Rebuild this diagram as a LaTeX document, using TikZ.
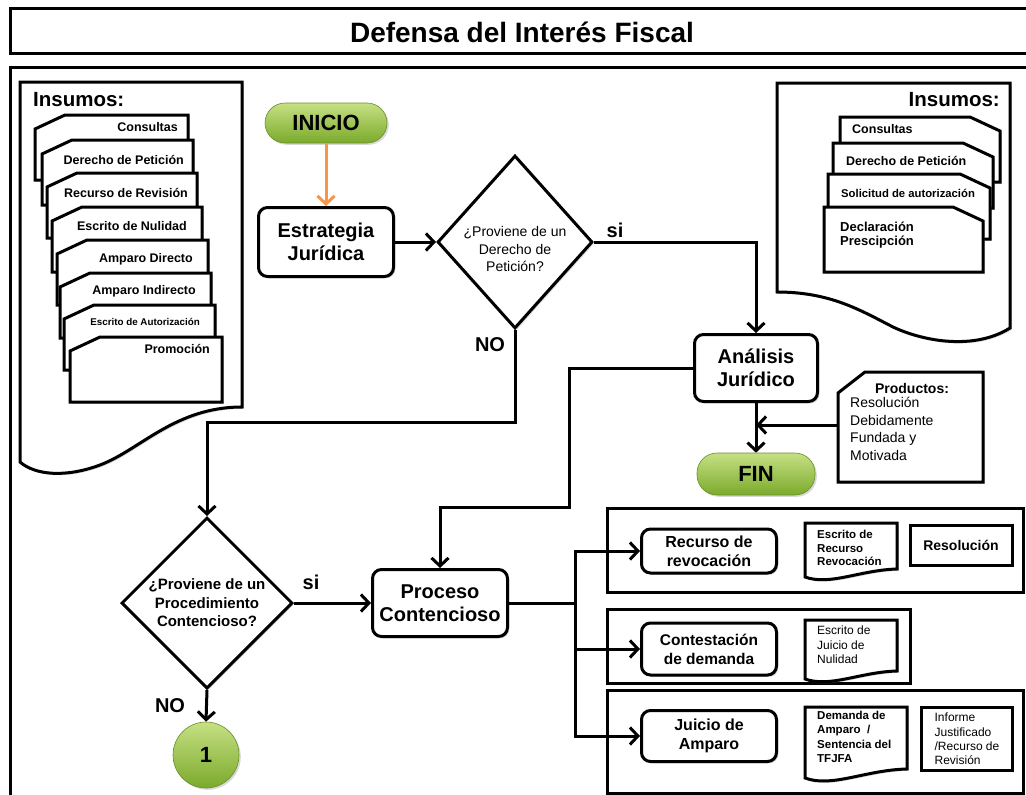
\documentclass[tikz,border=0pt]{standalone}
\usepackage{fontspec}
\setmainfont{Liberation Sans}
\usetikzlibrary{arrows.meta,shapes.geometric,shadows}

\definecolor{termtop}{HTML}{C6E084}
\definecolor{termbot}{HTML}{7BAA2C}
\definecolor{startarrow}{HTML}{F79646}

\newcommand{\fsz}[2]{\fontsize{#1pt}{#2pt}\selectfont}

\tikzset{
  soft shadow/.style={drop shadow={shadow xshift=1.8pt,shadow yshift=-1.8pt,opacity=0.3}},
  framebox/.style={draw, line width=3pt, fill=white, align=center, inner sep=0pt, soft shadow},
  procbox/.style={framebox, rounded corners=9pt, font=\bfseries\fsz{20}{23}},
  terminal/.style={rounded corners=20pt, top color=termtop, bottom color=termbot,
    draw=termbot!85!black, line width=0.6pt, font=\bfseries\fsz{22}{24}, soft shadow},
  decision/.style={diamond, aspect=1, draw, line width=3pt, fill=white, inner sep=0pt,
    align=center, soft shadow},
  flow/.style={line width=3pt, -{Straight Barb[length=8pt,width=17pt]}},
  link/.style={line width=3pt},
  card/.style={draw, line width=3pt, fill=white, line join=miter, soft shadow},
  answer/.style={font=\bfseries\fsz{20}{22}, inner sep=0pt},
  groupframe/.style={draw, line width=3pt},
}

% document card with its top-left corner cut off, label set to the right
\newcommand{\insumoL}[8]{%
  \draw[card] (#2,#3+14) -- (#2+30,#3) -- (#4,#3) -- (#4,#3+65) -- (#2,#3+65) -- cycle;
  \node[anchor=east, inner sep=0pt, font=#7] (#1) at (#5,#6) {#8};}
% document card with its top-right corner cut off, label set to the left
\newcommand{\insumoR}[8]{%
  \draw[card] (#2,#3) -- (#4-30,#3) -- (#4,#3+14) -- (#4,#3+65) -- (#2,#3+65) -- cycle;
  \node[anchor=west, inner sep=0pt, font=#7, align=left] (#1) at (#5,#6) {#8};}

\begin{document}
\begin{tikzpicture}[x=1pt,y=-1pt]
\useasboundingbox (0,0) rectangle (1026,795);
\fill[white] (0,0) rectangle (1026,795);
\clip (0,0) rectangle (1026,795);

% title bar and outer frame
\draw[line width=3pt] (10,8) rectangle (1060,53);
\node[font=\bfseries\fsz{28}{30}] (title) at (522,32) {Defensa del Interés Fiscal};
\draw[line width=3pt] (10,67) rectangle (1060,840);

% left input document
\draw[card] (20,82) -- (242,82) -- (242,407)
  .. controls (175,407) and (140,450) .. (100,465)
  .. controls (65,478) and (35,475) .. (20,462) -- cycle;
\node[font=\bfseries\fsz{20.5}{22}, anchor=west, inner sep=0pt] (insL) at (33,100) {Insumos:};
\insumoL{inLa}{35}{115}{188}{178}{127}{\bfseries\fsz{12.5}{15}}{Consultas}
\insumoL{inLb}{42}{140}{193}{184}{160}{\bfseries\fsz{12.5}{15}}{Derecho de Petición}
\insumoL{inLc}{47}{173}{197}{188}{193}{\bfseries\fsz{12.5}{15}}{Recurso de Revisión}
\insumoL{inLd}{52}{207}{202}{187}{226}{\bfseries\fsz{12.5}{15}}{Escrito de Nulidad}
\insumoL{inLe}{57}{240}{208}{193}{259}{\bfseries\fsz{12.5}{15}}{Amparo Directo}
\insumoL{inLf}{60}{273}{211}{196}{291}{\bfseries\fsz{12.5}{15}}{Amparo Indirecto}
\insumoL{inLg}{64}{305}{215}{200}{322}{\bfseries\fsz{9.8}{12}}{Escrito de Autorización}
\insumoL{inLh}{70}{337}{222}{210}{349}{\bfseries\fsz{12.5}{15}}{Promoción}

% right input document
\draw[card] (777,83) -- (1010,83) -- (1010,328)
  .. controls (975,350) and (925,342) .. (893,327)
  .. controls (860,310) and (830,292) .. (777,292) -- cycle;
\node[font=\bfseries\fsz{20.5}{22}, anchor=east, inner sep=0pt] (insR) at (1000,100) {Insumos:};
\insumoR{inRa}{840}{117}{1000}{852}{129}{\bfseries\fsz{12.5}{15}}{Consultas}
\insumoR{inRb}{833}{143}{993}{846}{161}{\bfseries\fsz{12.5}{15}}{Derecho de Petición}
\insumoR{inRc}{828}{174}{990}{841}{193}{\bfseries\fsz{11.3}{14}}{Solicitud de autorización}
\insumoR{inRd}{824}{207}{983}{840}{235}{\bfseries\fsz{13}{14.5}}{Declaración\\Prescipción}

% main flow
\node[terminal, minimum width=122pt, minimum height=40pt] (inicio) at (326,123) {INICIO};
\node[procbox, minimum width=135pt, minimum height=69pt] (estrategia) at (326,242) {Estrategia\\Jurídica};
\node[decision, minimum width=155pt, minimum height=173pt] (d1) at (515,242) {};
\node[font=\fsz{14}{17.5}, align=center, inner sep=0pt] (d1text) at (515,249) {¿Proviene de un\\Derecho de\\Petición?};
\node[procbox, minimum width=123pt, minimum height=67pt] (analisis) at (756,368) {Análisis\\Jurídico};
\node[terminal, minimum width=118pt, minimum height=42pt] (fin) at (756,474) {FIN};

% products note
\draw[card] (838,393) -- (865,372) -- (983,372) -- (983,482) -- (838,482) -- cycle;
\node[font=\bfseries\fsz{14}{16}, inner sep=0pt] (prodtitle) at (912,388) {Productos:};
\node[anchor=north west, align=left, font=\fsz{14}{17.5}, inner sep=0pt] (prodtext) at (850,397)
  {Resolución\\Debidamente\\Fundada y\\Motivada};
\coordinate (prodin) at (838,425);

\node[decision, minimum width=171pt, minimum height=171pt, font=\bfseries\fsz{15}{18.5}] (d2) at (207,603)
  {¿Proviene de un\\Procedimiento\\Contencioso?};
\node[procbox, minimum width=135pt, minimum height=67pt] (proceso) at (440,603) {Proceso\\Contencioso};
\node[circle, top color=termtop, bottom color=termbot, draw=termbot!85!black, line width=0.6pt,
  minimum size=66pt, font=\bfseries\fsz{22}{24}, soft shadow] (uno) at (206,755) {1};

% litigation branches
\draw[groupframe] (607,508) rectangle (1023,592);
\draw[groupframe] (607,609) rectangle (910,683);
\draw[groupframe] (607,690) rectangle (1023,793);

\node[procbox, font=\bfseries\fsz{16}{19}, minimum width=135pt, minimum height=44pt] (recurso) at (709,551) {Recurso de\\revocación};
\node[procbox, font=\bfseries\fsz{15.5}{19}, minimum width=135pt, minimum height=52pt] (contest) at (709,649) {Contestación\\de demanda};
\node[procbox, font=\bfseries\fsz{16}{19}, minimum width=135pt, minimum height=51pt] (juicio) at (709,736) {Juicio de\\Amparo};

\draw[card] (805,523) -- (897,523) -- (897,569)
  .. controls (860,570) and (830,586) .. (805,577) -- cycle;
\node[anchor=west, align=left, font=\bfseries\fsz{11.5}{13.5}, inner sep=0pt] (docrec) at (817,548)
  {Escrito de\\Recurso\\Revocación};
\node[framebox, font=\bfseries\fsz{14}{16}, minimum width=102pt, minimum height=40pt] (resol) at (961,545) {Resolución};

\draw[card] (805,620) -- (897,620) -- (897,671)
  .. controls (860,672) and (830,688) .. (805,679) -- cycle;
\node[anchor=west, align=left, font=\fsz{12}{14.5}, inner sep=0pt] (docnul) at (817,645)
  {Escrito de\\Juicio de\\Nulidad};

\draw[card] (805,707) -- (907,707) -- (907,769)
  .. controls (865,770) and (832,788) .. (805,778) -- cycle;
\node[anchor=west, align=left, font=\bfseries\fsz{11.5}{14.3}, inner sep=0pt] (docamp) at (817,737)
  {Demanda de\\Amparo\ \ /\\Sentencia del\\TFJFA};
\node[framebox, align=left, font=\fsz{12}{14.3}, minimum width=91pt, minimum height=63pt] (informe) at (967,739)
  {Informe\\Justificado\\/Recurso de\\Revisión};

% connectors
\draw[flow, draw=startarrow] (inicio) -- (estrategia);
\draw[flow] (estrategia) -- (d1);
\draw[flow] (d1.east) -| (analisis.north);
\node[answer] (si1) at (615,230) {si};
\node[answer] (no1) at (490,345) {NO};

\coordinate (nobend) at (0,422);
\draw[flow] (d1.south) -- (d1.south |- nobend) -| (d2.north);

\coordinate (abend) at (569,0);
\coordinate (pbend) at (0,507);
\draw[flow] (analisis.west) -- (analisis.west -| abend) -- (abend |- pbend) -| (proceso.north);

\draw[flow] (analisis) -- (fin);
\draw[flow] (prodin) -- (prodin -| fin.north);

\draw[flow] (d2.east) -- (proceso.west);
\node[answer] (si2) at (311,582) {si};
\node[answer] (no2) at (170,706) {NO};
\draw[flow] (d2.south) -- (uno.north);

\coordinate (trunk) at (575,0);
\draw[flow] (proceso.east) -- (proceso.east -| trunk) |- (recurso.west);
\draw[flow] (proceso.east -| trunk) |- (contest.west);
\draw[flow] (proceso.east -| trunk) |- (juicio.west);
\end{tikzpicture}
\end{document}
